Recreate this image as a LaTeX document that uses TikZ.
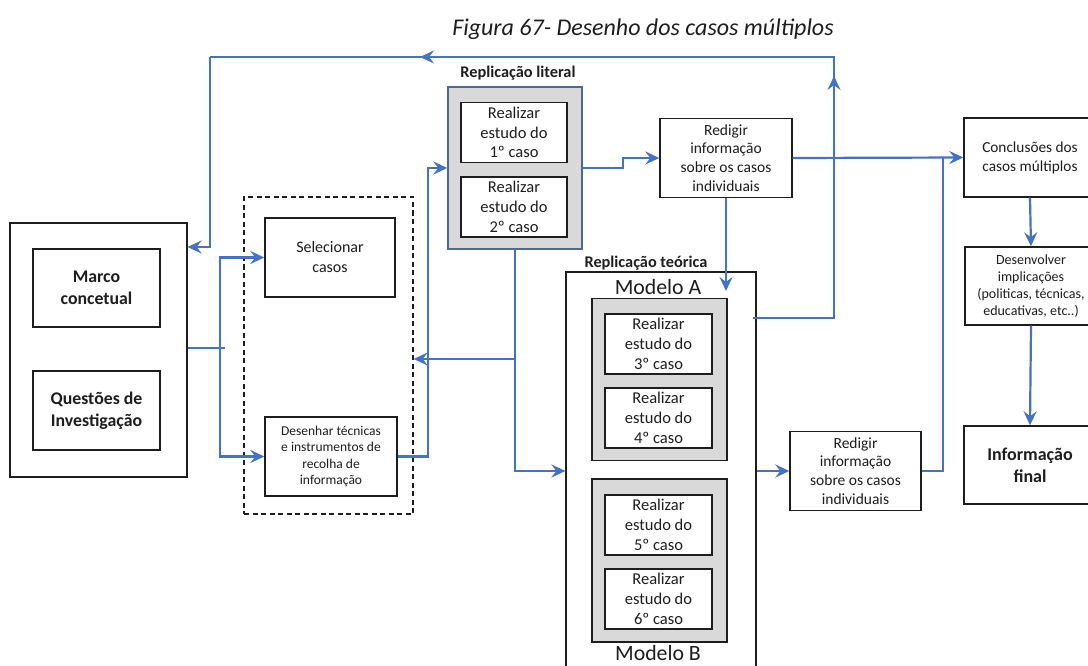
\documentclass[tikz,border=0pt]{standalone}
\usepackage{fontspec}
\setmainfont{Carlito}
\usetikzlibrary{arrows.meta}
\definecolor{flow}{RGB}{68,114,196}
\definecolor{panel}{RGB}{217,217,217}
\definecolor{panelrim}{RGB}{80,105,145}
\definecolor{ink}{RGB}{30,30,30}

\tikzset{
  box/.style={draw=ink, line width=1.4pt, fill=white, align=center, inner sep=0pt, text=ink},
  frame/.style={draw=ink, line width=1.2pt, fill=white, inner sep=0pt},
  grey/.style={draw=ink, line width=1.4pt, fill=panel, inner sep=0pt},
  link/.style={draw=flow, line width=2.2pt},
  arr/.style={link, -{Stealth[length=14pt,width=13pt,inset=5pt]}},
  study/.style={box, minimum width=106pt, minimum height=60pt, font=\fontsize{16.5}{19.8}\selectfont},
  redig/.style={box, minimum width=132pt, minimum height=79pt, font=\fontsize{15.5}{18.8}\selectfont},
  heading/.style={font=\bfseries\fontsize{16.3}{18}\selectfont, text=ink, inner sep=0pt},
  model/.style={font=\fontsize{21.8}{24}\selectfont, text=ink, inner sep=0pt},
}

\begin{document}
\begin{tikzpicture}[x=1pt, y=-1pt]
\useasboundingbox (0,0) rectangle (1088,666);

% title
\node[font=\itshape\fontsize{24}{28}\selectfont, text=ink, inner sep=0pt] (title) at (643,29) {Figura 67- Desenho dos casos múltiplos};

% left block: conceptual frame and research questions
\node[frame, minimum width=177pt, minimum height=254pt] (outer) at (98.5,350) {};
\node[box, minimum width=127pt, minimum height=78pt, font=\bfseries\fontsize{17.8}{22}\selectfont] (marco) at (96.5,288) {Marco\\concetual};
\node[box, minimum width=127pt, minimum height=79pt, font=\bfseries\fontsize{17.8}{22}\selectfont] (questoes) at (96.5,410.5) {Questões de\\Investigação};

% design group
\node[draw=ink, dashed, line width=1.3pt, dash pattern=on 5pt off 3.5pt, minimum width=169pt, minimum height=317pt, inner sep=0pt] (dashed) at (328.5,355.5) {};
\node[box, minimum width=130pt, minimum height=79pt, font=\fontsize{16}{20}\selectfont] (selec) at (330,257.5) {Selecionar\\casos};
\node[box, minimum width=132pt, minimum height=79pt, font=\fontsize{13.5}{16.5}\selectfont] (desenhar) at (331,456.5) {Desenhar técnicas\\e instrumentos de\\recolha de\\informação};

% literal replication
\node[heading] (littitle) at (518,73) {Replicação literal};
\node[grey, draw=panelrim, minimum width=134pt, minimum height=162pt] (lit) at (515,168) {};
\node[study] (c1) at (514,132.5) {Realizar\\estudo do\\1º caso};
\node[study] (c2) at (514,207) {Realizar\\estudo do\\2º caso};

\node[redig] (red1) at (726,158) {Redigir\\informação\\sobre os casos\\individuais};

% theoretical replication
\node[heading] (theotitle) at (646,263) {Replicação teórica};
\node[frame, minimum width=190pt, minimum height=418pt] (theo) at (661,481) {};
\node[model] (moda) at (658,287) {Modelo A};
\node[grey, minimum width=135pt, minimum height=162pt] (ga) at (659.5,379.5) {};
\node[study, minimum width=107pt] (c3) at (658.5,344) {Realizar\\estudo do\\3º caso};
\node[study, minimum width=107pt] (c4) at (658.5,418) {Realizar\\estudo do\\4º caso};
\node[grey, minimum width=135pt, minimum height=163pt] (gb) at (659.5,560.5) {};
\node[study, minimum width=107pt] (c5) at (658.5,525) {Realizar\\estudo do\\5º caso};
\node[study, minimum width=107pt] (c6) at (658.5,599) {Realizar\\estudo do\\6º caso};
\node[model] (modb) at (658,653.5) {Modelo B};

\node[redig, minimum width=131pt] (red2) at (855.5,471) {Redigir\\informação\\sobre os casos\\individuais};

% conclusions column
\node[box, minimum width=132pt, minimum height=79pt, font=\fontsize{15.3}{19}\selectfont] (concl) at (1030,157.5) {Conclusões dos\\casos múltiplos};
\node[box, minimum width=132pt, minimum height=78pt, font=\fontsize{14}{16.8}\selectfont] (desenv) at (1031,286) {Desenvolver\\implicações\\(politicas, técnicas,\\educativas, etc..)};
\node[box, minimum width=132pt, minimum height=78pt, font=\bfseries\fontsize{18}{22}\selectfont] (final) at (1030,465) {Informação\\final};

% connectors
\coordinate (fork) at (220,348);
\draw[link] (outer.east |- fork) -- ([xshift=5pt]fork);
\draw[arr] (fork) |- (selec.west);
\draw[arr] (fork) |- (desenhar.west);

\draw[arr] (desenhar.east) -- ++(30,0) |- (lit.west);

\coordinate (tap) at (515,359);
\draw[arr] (lit.south) |- (theo.west |- red2.west);
\draw[arr] (tap) -- (dashed.east |- tap);

\draw[arr] (lit.east) -- ++(40,0) |- (red1.west);
\draw[arr] (red1.east) -- (concl.west);
\draw[arr] (red1.south) -- (red1.south |- 0,291);

% feedback loop back to the conceptual frame
\coordinate (up) at (834,318);
\coordinate (ne) at (834,57);
\coordinate (nw) at (210,57);
\draw[arr] ([xshift=-4pt]theo.east |- up) -- (up) -- (834,76);
\draw[arr] (834,80) -- (ne) -- (420,57);
\draw[link] (424,57) -- (nw);
\draw[arr] (nw) |- (outer.east |- 0,247);

\draw[arr] (theo.east |- red2.west) -- (red2.west);
\coordinate (merge) at (943,158);
\draw[link] (red2.east) -| (merge);

\draw[arr] (concl.south) -- (desenv.north);
\draw[arr] (desenv.south) -- (final.north);
\end{tikzpicture}
\end{document}
